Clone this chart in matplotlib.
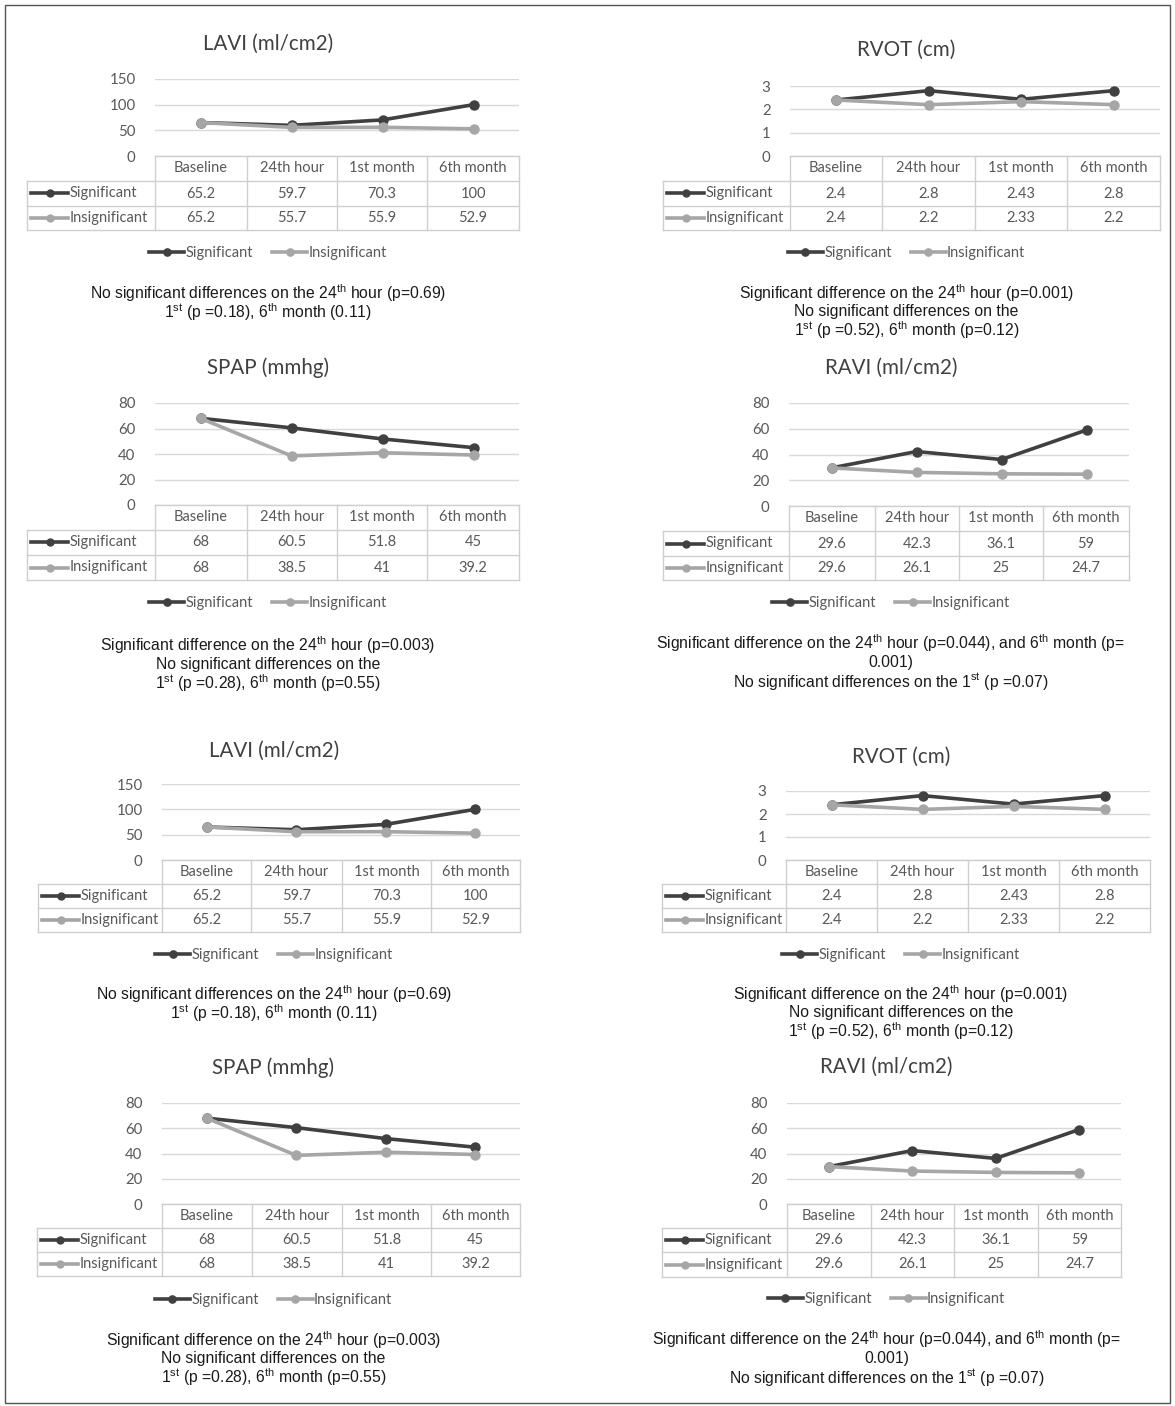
import matplotlib
matplotlib.use("Agg")
import matplotlib.pyplot as plt
from matplotlib.patches import Rectangle

plt.rcParams["mathtext.fontset"] = "custom"
plt.rcParams["mathtext.rm"] = "Liberation Sans"
plt.rcParams["mathtext.it"] = "Liberation Sans:italic"
plt.rcParams["mathtext.bf"] = "Liberation Sans:bold"

W, H = 1175, 1406

# data
periods = ["Baseline", "24th hour", "1st month", "6th month"]
series_names = ["Significant", "Insignificant"]

lavi_sig = [65.2, 59.7, 70.3, 100]
lavi_insig = [65.2, 55.7, 55.9, 52.9]
rvot_sig = [2.4, 2.8, 2.43, 2.8]
rvot_insig = [2.4, 2.2, 2.33, 2.2]
spap_sig = [68, 60.5, 51.8, 45]
spap_insig = [68, 38.5, 41, 39.2]
ravi_sig = [29.6, 42.3, 36.1, 59]
ravi_insig = [29.6, 26.1, 25, 24.7]

lavi_ticks = [0, 50, 100, 150]
rvot_ticks = [0, 1, 2, 3]
spap_ticks = [0, 20, 40, 60, 80]
ravi_ticks = [0, 20, 40, 60, 80]

SUP = lambda s: r"$^{\mathrm{" + s + "}}$"
lavi_caption = ["No significant differences on the 24" + SUP("th") + " hour (p=0.69)",
                "1" + SUP("st") + " (p =0.18), 6" + SUP("th") + " month (0.11)"]
rvot_caption = ["Significant difference on the 24" + SUP("th") + " hour (p=0.001)",
                "No significant differences on the",
                "1" + SUP("st") + " (p =0.52), 6" + SUP("th") + " month (p=0.12)"]
spap_caption = ["Significant difference on the 24" + SUP("th") + " hour (p=0.003)",
                "No significant differences on the",
                "1" + SUP("st") + " (p =0.28), 6" + SUP("th") + " month (p=0.55)"]
ravi_caption = ["Significant difference on the 24" + SUP("th") + " hour (p=0.044), and 6" + SUP("th") + " month (p=",
                "0.001)",
                "No significant differences on the 1" + SUP("st") + " (p =0.07)"]

DARK = "#404040"
LIGHT = "#a6a6a6"
GRID = "#d9d9d9"
TXT = "#595959"
TFONT = "Lato"

fig = plt.figure(figsize=(W / 100, H / 100), dpi=100)


def fx(x):
    return x / W


def fy(y):
    return 1 - y / H


def draw_panel(title, sig, insig, ticks, caption, lab_x, cols, ytop, rows,
               title_y, leg_y, cap_y, cap_gap):
    y0 = rows[0]
    cx = (lab_x + cols[-1]) / 2 - 5

    # line chart
    ax = fig.add_axes([fx(cols[0]), fy(y0), (cols[-1] - cols[0]) / W, (y0 - ytop) / H])
    xs = range(len(periods))
    l1, = ax.plot(xs, sig, color=DARK, lw=2.6, marker="o", ms=6.5, zorder=3, clip_on=False)
    l2, = ax.plot(xs, insig, color=LIGHT, lw=2.6, marker="o", ms=6.5, zorder=4, clip_on=False)
    ax.set_xlim(-0.5, len(periods) - 0.5)
    ax.set_ylim(ticks[0], ticks[-1])
    ax.set_yticks(ticks)
    ax.set_xticks([])
    ax.grid(axis="y", color=GRID, lw=1)
    ax.set_axisbelow(True)
    for s in ax.spines.values():
        s.set_visible(False)
    ax.tick_params(axis="y", length=0, pad=14, labelsize=10.8, labelcolor=TXT)
    for lbl in ax.get_yticklabels():
        lbl.set_fontfamily(TFONT)
    ax.patch.set_alpha(0)

    # data table
    at = fig.add_axes([fx(lab_x), fy(rows[-1]), (cols[-1] - lab_x) / W, (rows[-1] - rows[0]) / H])
    at.set_xlim(lab_x, cols[-1])
    at.set_ylim(rows[-1], rows[0])
    at.axis("off")
    bc = "#cfcfcf"
    at.plot([cols[0], cols[-1]], [rows[0], rows[0]], color=bc, lw=1, clip_on=False)
    for r in rows[1:]:
        at.plot([lab_x, cols[-1]], [r, r], color=bc, lw=1, clip_on=False)
    at.plot([lab_x, lab_x], [rows[1], rows[-1]], color=bc, lw=1, clip_on=False)
    for c in cols:
        at.plot([c, c], [rows[0], rows[-1]], color=bc, lw=1, clip_on=False)
    for i, p in enumerate(periods):
        at.text((cols[i] + cols[i + 1]) / 2, (rows[0] + rows[1]) / 2, p, ha="center",
                va="center", fontsize=10.5, family=TFONT, color=TXT)
    for j, (vals, col) in enumerate([(sig, DARK), (insig, LIGHT)]):
        ym = (rows[j + 1] + rows[j + 2]) / 2
        at.plot([lab_x + 4, lab_x + 41], [ym, ym], color=col, lw=2.6, clip_on=False)
        at.plot([lab_x + 23], [ym], "o", color=col, ms=5, clip_on=False)
        at.text(lab_x + 43, ym, series_names[j], ha="left", va="center", fontsize=10.5,
                family=TFONT, color=TXT)
        for i, v in enumerate(vals):
            at.text((cols[i] + cols[i + 1]) / 2, ym, str(v), ha="center", va="center",
                    fontsize=10.5, family=TFONT, color=TXT)

    # title, legend, caption
    fig.text(fx(cx), fy(title_y), title, ha="center", va="center", fontsize=14.8,
             family=TFONT, color=DARK)
    fig.legend([l1, l2], series_names, loc="center", bbox_to_anchor=(fx(cx), fy(leg_y)),
               ncol=2, frameon=False, handlelength=2.4, handletextpad=0.1,
               columnspacing=1.3, prop={"family": TFONT, "size": 10.5}, labelcolor=TXT,
               markerscale=0.8)
    for k, line in enumerate(caption):
        fig.text(fx(cx), fy(cap_y + k * cap_gap), line, ha="center", va="center",
                 fontsize=11.3, family="Liberation Sans", color="#1a1a1a")


draw_panel("LAVI (ml/cm2)", lavi_sig, lavi_insig, lavi_ticks, lavi_caption,
           27, [155, 247, 337, 427, 519], 79, [156, 181, 206, 230], 44, 253, 293, 19)
draw_panel("RVOT (cm)", rvot_sig, rvot_insig, rvot_ticks, rvot_caption,
           663, [790, 882, 975, 1067, 1160], 86, [156, 181, 206, 230], 50, 253, 293, 18.5)
draw_panel("SPAP (mmhg)", spap_sig, spap_insig, spap_ticks, spap_caption,
           27, [155, 247, 337, 427, 519], 403, [505, 530, 555, 580], 368, 603, 645, 19)
draw_panel("RAVI (ml/cm2)", ravi_sig, ravi_insig, ravi_ticks, ravi_caption,
           663, [789, 875, 959, 1043, 1129], 403, [506, 531, 556, 580], 368, 603, 643, 19)
draw_panel("LAVI (ml/cm2)", lavi_sig, lavi_insig, lavi_ticks, lavi_caption,
           38, [162, 251, 342, 431, 520], 784, [860, 884, 908, 932], 751, 955, 994, 19)
draw_panel("RVOT (cm)", rvot_sig, rvot_insig, rvot_ticks, rvot_caption,
           662, [786, 877, 968, 1059, 1150], 791, [860, 884, 908, 932], 757, 955, 994, 18.5)
draw_panel("SPAP (mmhg)", spap_sig, spap_insig, spap_ticks, spap_caption,
           37, [162, 252, 342, 431, 520], 1103, [1204, 1228, 1252, 1276], 1068, 1300, 1340, 18.5)
draw_panel("RAVI (ml/cm2)", ravi_sig, ravi_insig, ravi_ticks, ravi_caption,
           662, [787, 871, 954, 1038, 1121], 1103, [1204, 1228, 1252, 1277], 1067, 1299, 1339, 19)

# outer frame
fig.add_artist(Rectangle((fx(5), fy(1403)), (1170 - 5) / W, (1403 - 5) / H,
                         transform=fig.transFigure, fill=False, edgecolor="#555555", lw=1))

fig.savefig("out.png", dpi=100)
